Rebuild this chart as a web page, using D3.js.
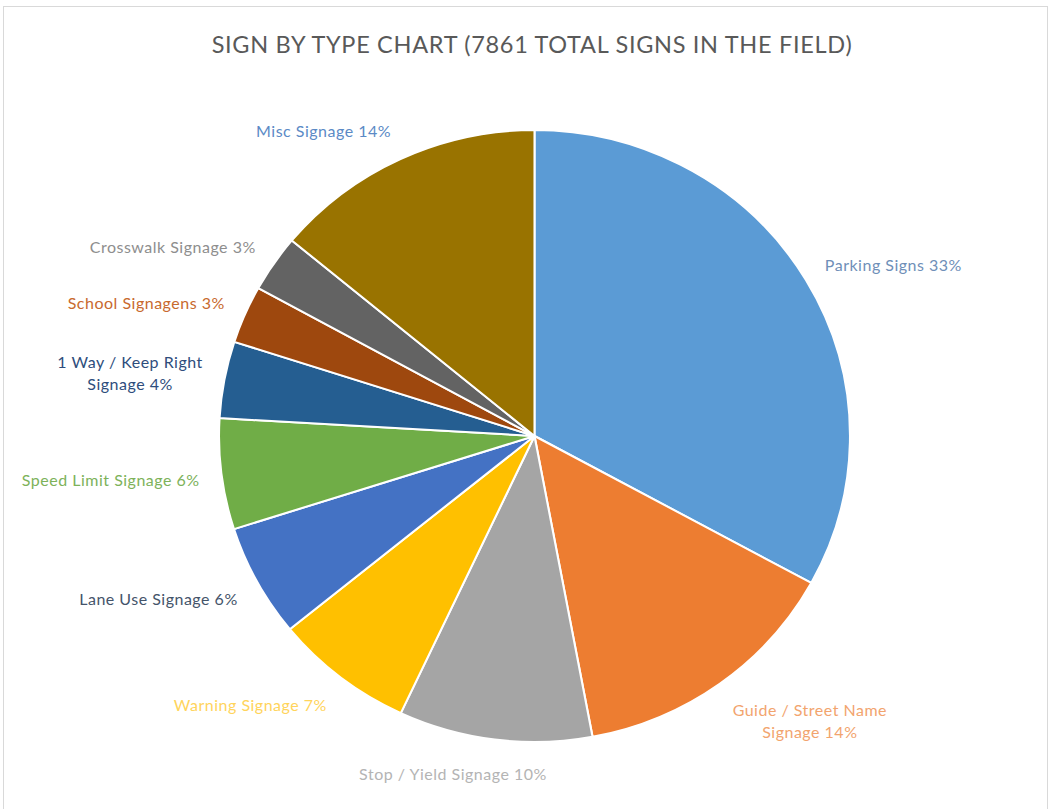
<!DOCTYPE html>
<html>
<head>
<meta charset="utf-8">
<script src="https://cdn.jsdelivr.net/npm/d3@7"></script>
<style>
  html, body { margin: 0; padding: 0; background: #fff; }
  svg { display: block; }
</style>
</head>
<body>
<svg id="chart" width="1052" height="809"></svg>
<script>
// ---- data ----
const title = "SIGN BY TYPE CHART (7861 TOTAL SIGNS IN THE FIELD)";
const categories = [
  ["Parking Signs"],
  ["Guide / Street Name", "Signage"],
  ["Stop / Yield Signage"],
  ["Warning Signage"],
  ["Lane Use Signage"],
  ["Speed Limit Signage"],
  ["1 Way / Keep Right", "Signage"],
  ["School Signagens"],
  ["Crosswalk Signage"],
  ["Misc Signage"]
];
const counts = [2592, 1107, 779, 563, 468, 460, 318, 240, 236, 1098];
const sliceColors = ["#5B9BD5", "#ED7D31", "#A5A5A5", "#FFC000", "#4472C4",
                     "#70AD47", "#255E91", "#9E480E", "#636363", "#997300"];
const labelColors = ["#6F8FB8", "#F2A46E", "#B4B4B4", "#FFD45C", "#44546A",
                     "#7DB25A", "#2E4D7C", "#C8692E", "#8E8E8E", "#5B8AC6"];

// ---- layout ----
const svg = d3.select("#chart");
const cx = 534.5, cy = 436, rx = 315.5, ry = 306;

svg.append("rect").attr("x", 3.5).attr("y", 6.5).attr("width", 1044).attr("height", 820)
  .attr("fill", "#fff").attr("stroke", "#d9d9d9").attr("stroke-width", 1);

svg.append("text")
  .attr("x", 532).attr("y", 53)
  .attr("text-anchor", "middle")
  .attr("font-family", "Lato, 'Liberation Sans', sans-serif")
  .attr("font-size", 23.5)
  .attr("letter-spacing", 0.7)
  .attr("fill", "#595959")
  .text(title);

const total = d3.sum(counts);
const data = counts.map((v, i) => ({ v, i }));
const pie = d3.pie().sort(null).value(d => d.v);
const arcs = pie(data);
const arc = d3.arc().innerRadius(0).outerRadius(ry);

const g = svg.append("g")
  .attr("transform", `translate(${cx},${cy}) scale(${rx / ry},1)`);
g.selectAll("path").data(arcs).join("path")
  .attr("d", arc)
  .attr("fill", d => sliceColors[d.data.i])
  .attr("stroke", "#fff")
  .attr("stroke-width", 2)
  .attr("stroke-linejoin", "round");

// ---- labels ----
const off = 22, lh = 22;
const pctFmt = v => Math.round(v / total * 100) + "%";
const lg = svg.append("g")
  .attr("font-family", "Lato, 'Liberation Sans', sans-serif")
  .attr("font-size", 16)
  .attr("letter-spacing", 0.5);

arcs.forEach(d => {
  const i = d.data.i;
  const lines = categories[i].slice();
  lines[lines.length - 1] = lines[lines.length - 1] + " " + pctFmt(d.data.v);
  const a = (d.startAngle + d.endAngle) / 2;
  const s = Math.sin(a), c = Math.cos(a);
  const px = cx + (rx + off) * s;
  const py = cy - (ry + off) * c;
  const t = lg.append("text")
    .attr("text-anchor", "middle")
    .attr("fill", labelColors[i]);
  lines.forEach((ln, k) => {
    t.append("tspan").attr("x", 0).attr("dy", k === 0 ? 0 : lh).text(ln);
  });
  const bb = t.node().getBBox();
  const w = bb.width, h = lines.length * lh;
  const hx = Math.max(-1, Math.min(1, s * 3.3));
  const bx = px + hx * w / 2;
  const by = py - c * h / 2;
  const y0 = by - (lines.length - 1) * lh / 2 + 8;
  t.attr("transform", `translate(${bx},${y0})`);
});
</script>
</body>
</html>
